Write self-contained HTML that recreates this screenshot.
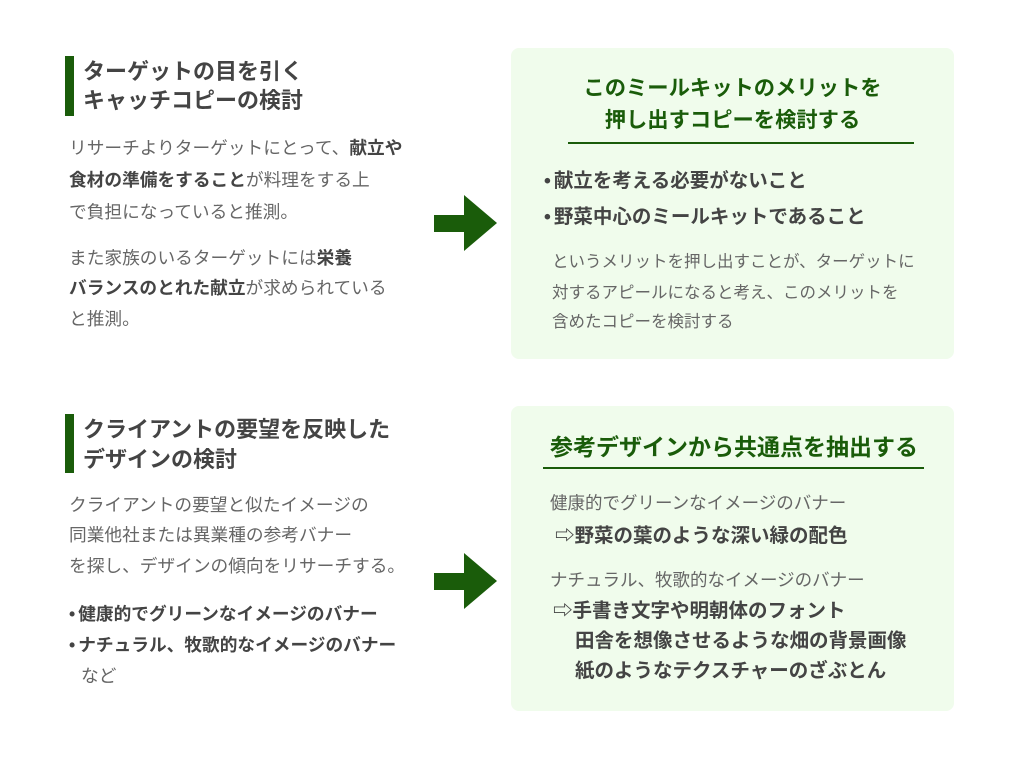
<!DOCTYPE html>
<html><head><meta charset="utf-8"><style>
body{margin:0;width:1024px;height:761px;background:#fff;position:relative;overflow:hidden;font-family:"Liberation Sans","Noto Sans CJK JP",sans-serif;color:#555}
.a{position:absolute;white-space:nowrap;line-height:30px}
.h{font-size:22px;font-weight:bold;color:#444}
.t{font-size:17.7px;color:#666}
.t b{color:#444}
.s{font-size:16.5px;color:#666}
.s2{font-size:17.5px;color:#666}
.bb{font-size:19.5px;font-weight:bold;color:#444}
.g{font-size:21.3px;font-weight:bold;color:#1a5c0a}
.box{position:absolute;background:#f0fcec;border-radius:8px}
.bar{position:absolute;background:#1a5c0a;width:9px}
.line{position:absolute;height:2px;background:#1a5c0a}
.d{margin-right:3px}
</style></head><body>
<div class="bar" style="left:65px;top:56px;height:60px"></div>
<div class="a h" style="left:83px;top:57px">ターゲットの目を引く</div>
<div class="a h" style="left:83px;top:86px">キャッチコピーの検討</div>
<div class="a t" style="left:69px;top:133px">リサーチよりターゲットにとって、<b>献立や</b></div>
<div class="a t" style="left:69px;top:165px"><b>食材の準備をすること</b>が料理をする上</div>
<div class="a t" style="left:69px;top:197px">で負担になっていると推測。</div>
<div class="a t" style="left:69px;top:243px">また家族のいるターゲットには<b>栄養</b></div>
<div class="a t" style="left:69px;top:273px"><b>バランスのとれた献立</b>が求められている</div>
<div class="a t" style="left:69px;top:304px">と推測。</div>

<svg style="position:absolute;left:0;top:0" width="1024" height="761">
<polygon points="434,215 464,215 464,195 497,223 464,251 464,232 434,232" fill="#1a5c0a"/>
<polygon points="434,573 464,573 464,553 497,581 464,609 464,590 434,590" fill="#1a5c0a"/>
</svg>

<div class="box" style="left:511px;top:48px;width:443px;height:311px"></div>
<div class="a g" style="left:511px;width:443px;text-align:center;top:73px">このミールキットのメリットを</div>
<div class="a g" style="left:511px;width:443px;text-align:center;top:105px">押し出すコピーを検討する</div>
<div class="line" style="left:568px;top:142px;width:346px"></div>
<div class="a bb" style="left:544px;top:166px"><span class="d">•</span>献立を考える必要がないこと</div>
<div class="a bb" style="left:544px;top:202px"><span class="d">•</span>野菜中心のミールキットであること</div>
<div class="a s" style="left:552px;top:247px">というメリットを押し出すことが、ターゲットに</div>
<div class="a s" style="left:552px;top:278px">対するアピールになると考え、このメリットを</div>
<div class="a s" style="left:552px;top:307px">含めたコピーを検討する</div>

<div class="bar" style="left:65px;top:414px;height:59px"></div>
<div class="a h" style="left:83px;top:415px">クライアントの要望を反映した</div>
<div class="a h" style="left:83px;top:445px">デザインの検討</div>
<div class="a t" style="left:69px;top:490px">クライアントの要望と似たイメージの</div>
<div class="a t" style="left:69px;top:520px">同業他社または異業種の参考バナー</div>
<div class="a t" style="left:69px;top:551px">を探し、デザインの傾向をリサーチする。</div>
<div class="a t" style="left:69px;top:599px"><b><span class="d">•</span>健康的でグリーンなイメージのバナー</b></div>
<div class="a t" style="left:69px;top:630px"><b><span class="d">•</span>ナチュラル、牧歌的なイメージのバナー</b></div>
<div class="a t" style="left:81px;top:661px">など</div>

<div class="box" style="left:511px;top:406px;width:443px;height:305px"></div>
<div class="a g" style="left:550px;top:432px;font-size:23px">参考デザインから共通点を抽出する</div>
<div class="line" style="left:543px;top:467px;width:381px"></div>
<div class="a s2" style="left:550px;top:488px">健康的でグリーンなイメージのバナー</div>
<div class="a bb" style="left:555px;top:521px">⇨野菜の葉のような深い緑の配色</div>
<div class="a s2" style="left:550px;top:565px">ナチュラル、牧歌的なイメージのバナー</div>
<div class="a bb" style="left:553px;top:596px">⇨手書き文字や明朝体のフォント</div>
<div class="a bb" style="left:575px;top:626px">田舎を想像させるような畑の背景画像</div>
<div class="a bb" style="left:575px;top:656px">紙のようなテクスチャーのざぶとん</div>
</body></html>
